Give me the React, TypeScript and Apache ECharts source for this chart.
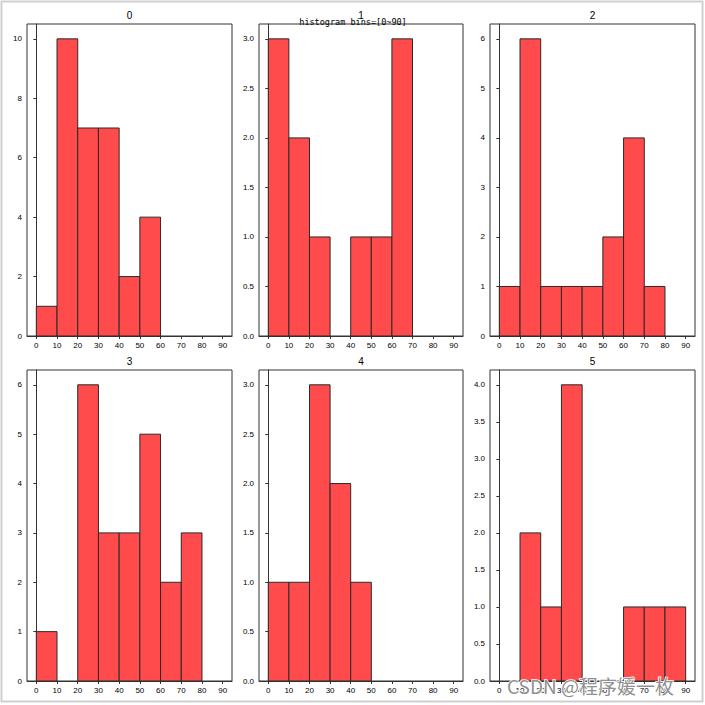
import React, { useEffect, useRef } from "react";
import * as echarts from "echarts";

const binEdges = [0, 10, 20, 30, 40, 50, 60, 70, 80, 90];
const panelTitles = ["0", "1", "2", "3", "4", "5"];
const counts0 = [1, 10, 7, 7, 2, 4, 0, 0, 0];
const counts1 = [3, 2, 1, 0, 1, 1, 3, 0, 0];
const counts2 = [1, 6, 1, 1, 1, 2, 4, 1, 0];
const counts3 = [1, 0, 6, 3, 3, 5, 2, 3, 0];
const counts4 = [1, 1, 3, 2, 1, 0, 0, 0, 0];
const counts5 = [0, 2, 1, 4, 0, 0, 1, 1, 1];
const allCounts = [counts0, counts1, counts2, counts3, counts4, counts5];
const yMaxes = [10.5, 3.15, 6.3, 6.3, 3.15, 4.2];
const yTicks0 = [0, 2, 4, 6, 8, 10];
const yTicks1 = [0, 0.5, 1, 1.5, 2, 2.5, 3];
const yTicks2 = [0, 1, 2, 3, 4, 5, 6];
const yTicks3 = [0, 1, 2, 3, 4, 5, 6];
const yTicks4 = [0, 0.5, 1, 1.5, 2, 2.5, 3];
const yTicks5 = [0, 0.5, 1, 1.5, 2, 2.5, 3, 3.5, 4];
const allYTicks = [yTicks0, yTicks1, yTicks2, yTicks3, yTicks4, yTicks5];
const yDecimals = [0, 1, 0, 0, 1, 1];
const xTicks = [0, 10, 20, 30, 40, 50, 60, 70, 80, 90];
const mainTitle = "histogram bins=[0~90]";
const watermark = "CSDN @程序媛一枚";

const gridLefts = [27, 259, 490];
const gridWidths = [205, 204, 205];
const gridTops = [24, 370];
const gridHeights = [312, 311];

export default function App() {
  const ref = useRef<HTMLDivElement>(null);
  useEffect(() => {
    if (!ref.current) return;
    const chart = echarts.init(ref.current, null, { renderer: "svg" });
    const grids: any[] = [];
    const xAxes: any[] = [];
    const yAxes: any[] = [];
    const series: any[] = [];
    const titles: any[] = [];
    const labelFont = { fontSize: 8, color: "#000", fontFamily: "Liberation Sans" };
    for (let i = 0; i < 6; i++) {
      const r = Math.floor(i / 3);
      const c = i % 3;
      grids.push({
        left: gridLefts[c],
        top: gridTops[r],
        width: gridWidths[c],
        height: gridHeights[r],
        show: true,
        borderColor: "#333",
        borderWidth: 1,
        backgroundColor: "#fff",
      });
      xAxes.push({
        type: "value",
        gridIndex: i,
        min: -4.5,
        max: 94.5,
        splitLine: { show: false },
        axisLine: { show: true, onZero: false, lineStyle: { color: "#333" } },
        axisTick: { show: true, length: 3, customValues: xTicks, lineStyle: { color: "#333" } },
        axisLabel: { ...labelFont, margin: 5, customValues: xTicks },
      });
      yAxes.push({
        type: "value",
        gridIndex: i,
        min: 0,
        max: yMaxes[i],
        splitLine: { show: false },
        axisLine: { show: true, lineStyle: { color: "#333" } },
        axisTick: { show: true, length: 3, customValues: allYTicks[i], lineStyle: { color: "#333" } },
        axisLabel: {
          ...labelFont,
          margin: 5,
          customValues: allYTicks[i],
          formatter: (v: number) => v.toFixed(yDecimals[i]),
        },
      });
      const data: number[][] = [];
      allCounts[i].forEach((cnt, k) => {
        if (cnt > 0) data.push([binEdges[k], binEdges[k + 1], cnt]);
      });
      series.push({
        type: "custom",
        xAxisIndex: i,
        yAxisIndex: i,
        data,
        encode: { x: [0, 1], y: 2 },
        renderItem: (params: any, api: any) => {
          const lo = api.value(0);
          const hi = api.value(1);
          const v = api.value(2);
          const p0 = api.coord([lo, 0]);
          const p1 = api.coord([hi, v]);
          return {
            type: "rect",
            shape: { x: p0[0], y: p1[1], width: p1[0] - p0[0], height: p0[1] - p1[1] },
            style: { fill: "#ff4b4b", stroke: "#2a2a2a", lineWidth: 1 },
          };
        },
      });
      titles.push({
        text: panelTitles[i],
        left: gridLefts[c] + gridWidths[c] / 2,
        top: gridTops[r] - 14,
        textAlign: "center",
        padding: 0,
        textStyle: { fontSize: 10, fontWeight: "normal", color: "#000", fontFamily: "Liberation Sans" },
      });
    }
    titles.push({
      text: mainTitle,
      left: 353,
      top: 17,
      textAlign: "center",
      padding: 0,
      textStyle: { fontSize: 8.5, fontWeight: "normal", color: "#000", fontFamily: "DejaVu Sans Mono" },
    });
    chart.setOption({
      animation: false,
      backgroundColor: "#fff",
      title: titles,
      grid: grids,
      xAxis: xAxes,
      yAxis: yAxes,
      series,
      graphic: [
        {
          type: "rect",
          shape: { x: 1.5, y: 1.5, width: 701, height: 700 },
          style: { fill: "none", stroke: "#cfcfcf", lineWidth: 2 },
          silent: true,
        },
        {
          type: "text",
          x: 507,
          y: 676,
          z: 100,
          style: {
            text: watermark,
            fontSize: 19,
            fontFamily: "Noto Sans CJK SC",
            fill: "rgba(130,130,130,0.9)",
            stroke: "#fff",
            lineWidth: 1.5,
          },
          silent: true,
        },
      ],
    });
    return () => chart.dispose();
  }, []);
  return (
    <div
      ref={ref}
      style={{ position: "absolute", left: 0, top: 0, width: 705, height: 705 }}
    />
  );
}
